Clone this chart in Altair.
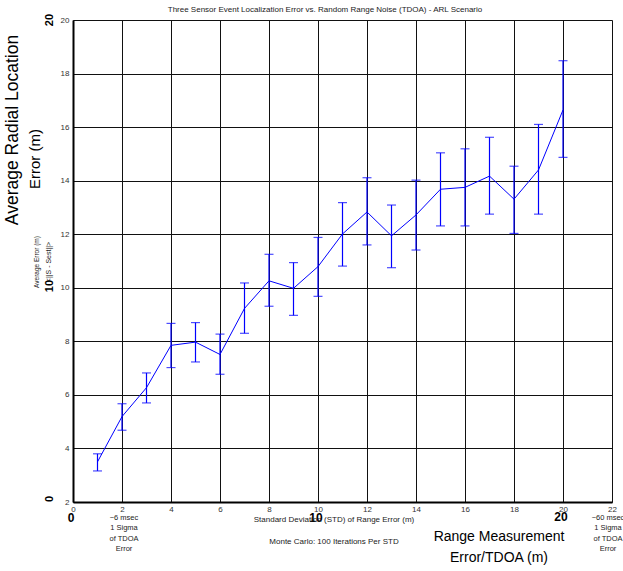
import altair as alt
import pandas as pd

# ---- data ----
std_m = list(range(1, 21))
mean_err = [3.50, 5.19, 6.27, 7.85, 7.97, 7.51, 9.23, 10.26, 9.98, 10.79,
            12.01, 12.83, 11.94, 12.72, 13.68, 13.75, 14.17, 13.31, 14.40, 16.64]
upper_err = [3.80, 5.67, 6.82, 8.67, 8.70, 8.27, 10.18, 11.25, 10.94, 11.88,
             13.18, 14.11, 13.09, 14.02, 15.04, 15.19, 15.62, 14.54, 16.10, 18.48]
lower_err = [3.16, 4.68, 5.70, 7.02, 7.23, 6.77, 8.30, 9.31, 8.97, 9.68,
             10.81, 11.60, 10.75, 11.41, 12.31, 12.31, 12.75, 12.03, 12.75, 14.87]
x_ticks = list(range(0, 23, 2))
y_ticks = list(range(2, 21, 2))

title_text = "Three Sensor Event Localization Error vs. Random Range Noise (TDOA) - ARL Scenario"

df = pd.DataFrame({"std": std_m, "err": mean_err, "hi": upper_err, "lo": lower_err})

FONT = "Liberation Sans"
BLUE = "#0000FF"
W, H = 539, 482

xs = alt.Scale(domain=[0, 22], nice=False, zero=False)
ys = alt.Scale(domain=[2, 20], nice=False, zero=False)

x_axis = alt.Axis(values=x_ticks, title=None, grid=True, gridColor="#111", gridWidth=1,
                  tickSize=0, labelFontSize=8, labelColor="#333", labelFont=FONT,
                  labelPadding=3, domainColor="#000", domainWidth=2, labelFlush=False)
y_axis = alt.Axis(values=y_ticks, title=None, grid=True, gridColor="#111", gridWidth=1,
                  tickSize=0, labelFontSize=8, labelColor="#333", labelFont=FONT,
                  labelPadding=4, domainColor="#000", domainWidth=2)

base = alt.Chart(df)

line = base.mark_line(color=BLUE, strokeWidth=1).encode(
    x=alt.X("std:Q", scale=xs, axis=x_axis),
    y=alt.Y("err:Q", scale=ys, axis=y_axis),
)
bars = base.mark_rule(color=BLUE, strokeWidth=1.2).encode(
    x=alt.X("std:Q", scale=xs), y=alt.Y("lo:Q", scale=ys), y2="hi:Q"
)
cap_hi = base.mark_tick(color=BLUE, orient="horizontal", size=9, thickness=1.2).encode(
    x=alt.X("std:Q", scale=xs), y=alt.Y("hi:Q", scale=ys)
)
cap_lo = base.mark_tick(color=BLUE, orient="horizontal", size=9, thickness=1.2).encode(
    x=alt.X("std:Q", scale=xs), y=alt.Y("lo:Q", scale=ys)
)

one = pd.DataFrame({"a": [0]})
L, T = 73, 20  # plot origin in page pixels


def label(text, px, py, size=8, bold=False, angle=0, color="#222", lh=None,
          align="center", font=FONT):
    kw = dict(text=text, fontSize=size, font=font, color=color, align=align,
              baseline="middle", fontWeight="bold" if bold else "normal")
    if angle:
        kw["angle"] = angle
    if lh:
        kw["lineHeight"] = lh
    return alt.Chart(one).mark_text(**kw).encode(
        x=alt.value(px - L), y=alt.value(py - T)
    )


texts = [
    label(title_text, 325, 10, size=8),
    label("Average Radial Location", 13, 130, size=17.5, angle=270, color="#000"),
    label("Error (m)", 35, 159, size=15, angle=270, color="#000"),
    label("20", 50, 20, size=11, bold=True, angle=270, color="#000"),
    label("Average Error (m)", 37, 262, size=6.5, angle=270),
    label("<||S - Sest||>", 49, 262, size=7, angle=270),
    label("10", 50, 286, size=11, bold=True, angle=270, color="#000"),
    label("0", 50, 499, size=11, bold=True, angle=270, color="#000"),
    label("0", 71, 518, size=12, bold=True, color="#000"),
    label("10", 316, 518, size=12, bold=True, color="#000"),
    label("20", 561, 517, size=12, bold=True, color="#000"),
    label("Standard Deviation (STD) of Range Error (m)", 334, 520, size=8),
    label("Monte Carlo: 100 Iterations Per STD", 334, 542, size=8),
    label(["~6 msec", "1 Sigma", "of TDOA", "Error"], 124, 518, size=7.5, lh=10.3),
    label(["~60 msec", "1 Sigma", "of TDOA", "Error"], 608, 518, size=7.5, lh=10.3),
    label("Range Measurement", 499, 537, size=14, color="#000"),
    label("Error/TDOA (m)", 499, 558, size=14, color="#000"),
]

chart = alt.layer(line, bars, cap_hi, cap_lo, *texts).properties(
    width=W, height=H,
    padding={"left": L, "top": T, "right": 623 - L - W, "bottom": 571 - T - H},
    autosize=alt.AutoSizeParams(type="none"),
).configure_view(stroke="#000", strokeWidth=1.5).configure(background="white")

chart.save("out.html", embed_options={"renderer": "svg", "actions": False})
